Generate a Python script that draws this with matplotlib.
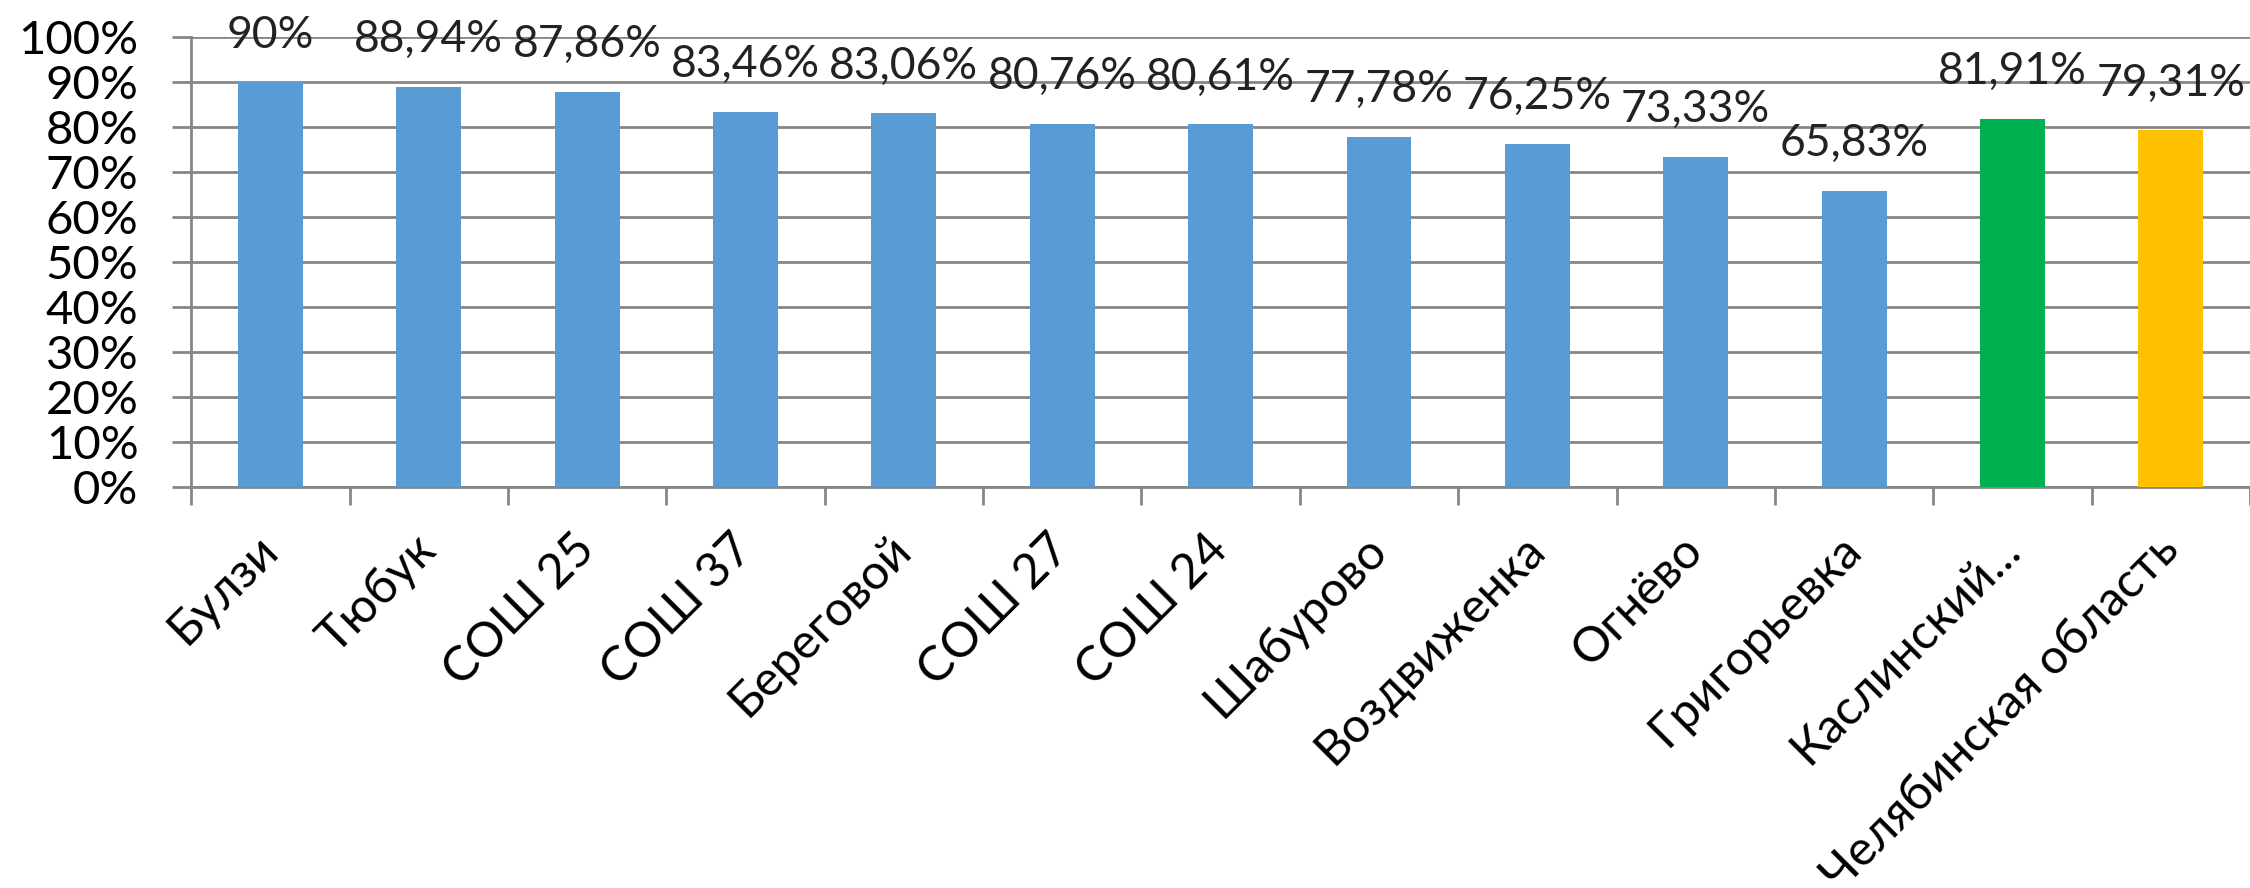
import matplotlib.pyplot as plt
from matplotlib.ticker import FuncFormatter, FixedLocator
from matplotlib.transforms import ScaledTranslation

schools = ["Булзи", "Тюбук", "СОШ 25", "СОШ 37", "Береговой", "СОШ 27", "СОШ 24",
           "Шабурово", "Воздвиженка", "Огнёво", "Григорьевка", "Каслинский...",
           "Челябинская область"]
percents = [90, 88.94, 87.86, 83.46, 83.06, 80.76, 80.61, 77.78, 76.25, 73.33,
            65.83, 81.91, 79.31]
bar_colors = ["#5B9BD5"] * 11 + ["#00B050", "#FFC000"]

plt.rcParams['font.family'] = ['Lato', 'DejaVu Sans']

fig = plt.figure(figsize=(22.5, 8.88), dpi=100)
ax = fig.add_axes([0.085, 0.452, 0.915, 0.506])

x = list(range(len(schools)))
values = [p / 100 for p in percents]
ax.bar(x, values, width=0.41, color=bar_colors, zorder=3)

for xi, v, p in zip(x, values, percents):
    label = f"{p:g}".replace('.', ',') + "%"
    ax.annotate(label, (xi, v), xytext=(0, 34), textcoords='offset points',
                ha='center', va='center', fontsize=32, color='#222222')

ax.set_xlim(-0.5, len(schools) - 0.5)
ax.set_ylim(0, 1)
ax.set_yticks([i / 10 for i in range(11)])
ax.yaxis.set_major_formatter(FuncFormatter(lambda v, pos: f"{round(v * 100)}%"))
ax.yaxis.grid(True, color='#868686', linewidth=2, zorder=0)

ax.set_xticks(x)
ax.set_xticklabels(schools, rotation=45, ha='right', va='center',
                   rotation_mode='anchor')
shift = ScaledTranslation(-0.14, 0, fig.dpi_scale_trans)
for lbl in ax.get_xticklabels():
    lbl.set_transform(lbl.get_transform() + shift)
ax.xaxis.set_minor_locator(FixedLocator([i - 0.5 for i in range(len(schools) + 1)]))

ax.tick_params(axis='x', which='major', length=0, pad=40, labelsize=35)
ax.tick_params(axis='x', which='minor', length=13, width=2, color='#868686')
ax.tick_params(axis='y', length=14, width=2, color='#868686', pad=24, labelsize=34)

for side in ['top', 'right']:
    ax.spines[side].set_visible(False)
for side in ['left', 'bottom']:
    ax.spines[side].set_color('#868686')
    ax.spines[side].set_linewidth(2)

fig.savefig("out.png", dpi=100)
